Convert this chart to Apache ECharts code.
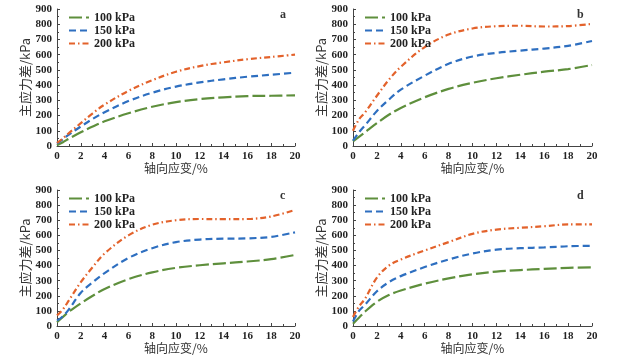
<!DOCTYPE html>
<html><head><meta charset="utf-8">
<script src="https://cdn.jsdelivr.net/npm/echarts@6/dist/echarts.min.js"></script>
<style>html,body{margin:0;padding:0;background:#fff}#c{width:622px;height:359px}</style>
</head><body><div id="c"></div>
<script>
const strain = [0, 0.5, 1, 2, 3, 4, 6, 8, 10, 12, 14, 16, 18, 20];
const seriesNames = ['100 kPa', '150 kPa', '200 kPa'];
const panelLabels = ['a', 'b', 'c', 'd'];
const xTicks = [0, 2, 4, 6, 8, 10, 12, 14, 16, 18, 20];
const yTicks = [0, 100, 200, 300, 400, 500, 600, 700, 800, 900];

const a100 = [5, 25, 48, 90, 128, 162, 215, 258, 288, 308, 320, 328, 330, 333];
const a150 = [15, 45, 75, 128, 178, 222, 295, 350, 390, 418, 438, 455, 468, 482];
const a200 = [20, 50, 85, 150, 215, 272, 362, 432, 488, 525, 550, 570, 585, 600];

const b100 = [30, 60, 90, 150, 205, 250, 320, 375, 415, 445, 468, 488, 505, 532];
const b150 = [35, 90, 135, 230, 305, 370, 462, 540, 588, 612, 627, 640, 658, 690];
const b200 = [100, 175, 220, 330, 435, 520, 650, 732, 772, 787, 790, 785, 788, 802];

const c100 = [25, 60, 95, 150, 200, 245, 310, 355, 385, 402, 415, 427, 442, 470];
const c150 = [35, 65, 110, 220, 290, 350, 450, 515, 555, 572, 578, 580, 590, 620];
const c200 = [70, 110, 170, 290, 390, 480, 600, 670, 700, 708, 707, 708, 725, 768];

const d100 = [15, 55, 95, 160, 205, 235, 280, 315, 342, 360, 370, 378, 385, 388];
const d150 = [30, 100, 140, 230, 290, 330, 390, 440, 480, 505, 515, 520, 528, 530];
const d200 = [60, 130, 180, 320, 400, 440, 500, 555, 610, 638, 650, 660, 672, 672];

const panels = [[a100, a150, a200], [b100, b150, b200], [c100, c150, c200], [d100, d150, d200]];

const colors = ['#5e8f3c', '#2e6fc0', '#e3622b'];
const dashes = [[13, 4], [7, 4], [6, 3, 1.5, 3]];
const grids = [
  {left: 57, top: 9, width: 238, height: 137},
  {left: 353, top: 9, width: 239, height: 137},
  {left: 57, top: 190, width: 238, height: 136},
  {left: 353, top: 190, width: 239, height: 136}
];
const serif = 'Liberation Serif';
const cjk = 'Noto Sans CJK SC';

const xAxis = [], yAxis = [], series = [], legend = [], graphic = [];
grids.forEach((g, i) => {
  xAxis.push({
    gridIndex: i, type: 'value', min: xTicks[0], max: xTicks[xTicks.length - 1], interval: 2,
    name: '轴向应变/%', nameLocation: 'middle', nameGap: 15,
    nameTextStyle: {fontFamily: cjk, fontSize: 12, color: '#333'},
    axisLine: {lineStyle: {color: '#444', width: 1}},
    axisTick: {inside: true, length: 3, lineStyle: {color: '#444'}},
    minorTick: {show: true, splitNumber: 2, length: 2, lineStyle: {color: '#444'}},
    axisLabel: {fontFamily: serif, fontWeight: 'bold', fontSize: 11, color: '#222', margin: 5},
    splitLine: {show: false}
  });
  yAxis.push({
    gridIndex: i, type: 'value', min: yTicks[0], max: yTicks[yTicks.length - 1], interval: 100,
    name: '主应力差/kPa', nameLocation: 'middle', nameGap: 24,
    nameTextStyle: {fontFamily: cjk, fontSize: 13, color: '#333'},
    axisLine: {show: true, lineStyle: {color: '#444', width: 1}},
    axisTick: {show: true, inside: true, length: 3, lineStyle: {color: '#444'}},
    minorTick: {show: true, splitNumber: 2, length: 2, lineStyle: {color: '#444'}},
    axisLabel: {fontFamily: serif, fontWeight: 'bold', fontSize: 11, color: '#222', margin: 5},
    splitLine: {show: false}
  });
  panels[i].forEach((vals, k) => {
    series.push({
      name: seriesNames[k], type: 'line', xAxisIndex: i, yAxisIndex: i,
      data: strain.map((s, j) => [s, vals[j]]),
      smooth: 0.35, symbol: 'none',
      lineStyle: {color: colors[k], width: 2.2, type: dashes[k]},
      itemStyle: {color: colors[k]}
    });
  });
  const legLeft = (i % 2 === 0) ? 68 : 364;
  legend.push({
    data: seriesNames, orient: 'vertical', left: legLeft, top: g.top + 2,
    itemWidth: 20, itemHeight: 8, itemGap: 0, padding: 0,
    itemStyle: {opacity: 0},
    textStyle: {fontFamily: serif, fontWeight: 'bold', fontSize: 12, color: '#222', lineHeight: 13},
    selectedMode: false
  });
  graphic.push({
    type: 'text', left: g.left + g.width - 15, top: g.top + 0,
    style: {text: panelLabels[i], font: 'bold 12px "Liberation Serif"', fill: '#333'}
  });
});

const chart = echarts.init(document.getElementById('c'), null, {renderer: 'canvas'});
chart.setOption({
  backgroundColor: '#fff', animation: false,
  grid: grids, xAxis, yAxis, series, legend, graphic
});
</script></body></html>
